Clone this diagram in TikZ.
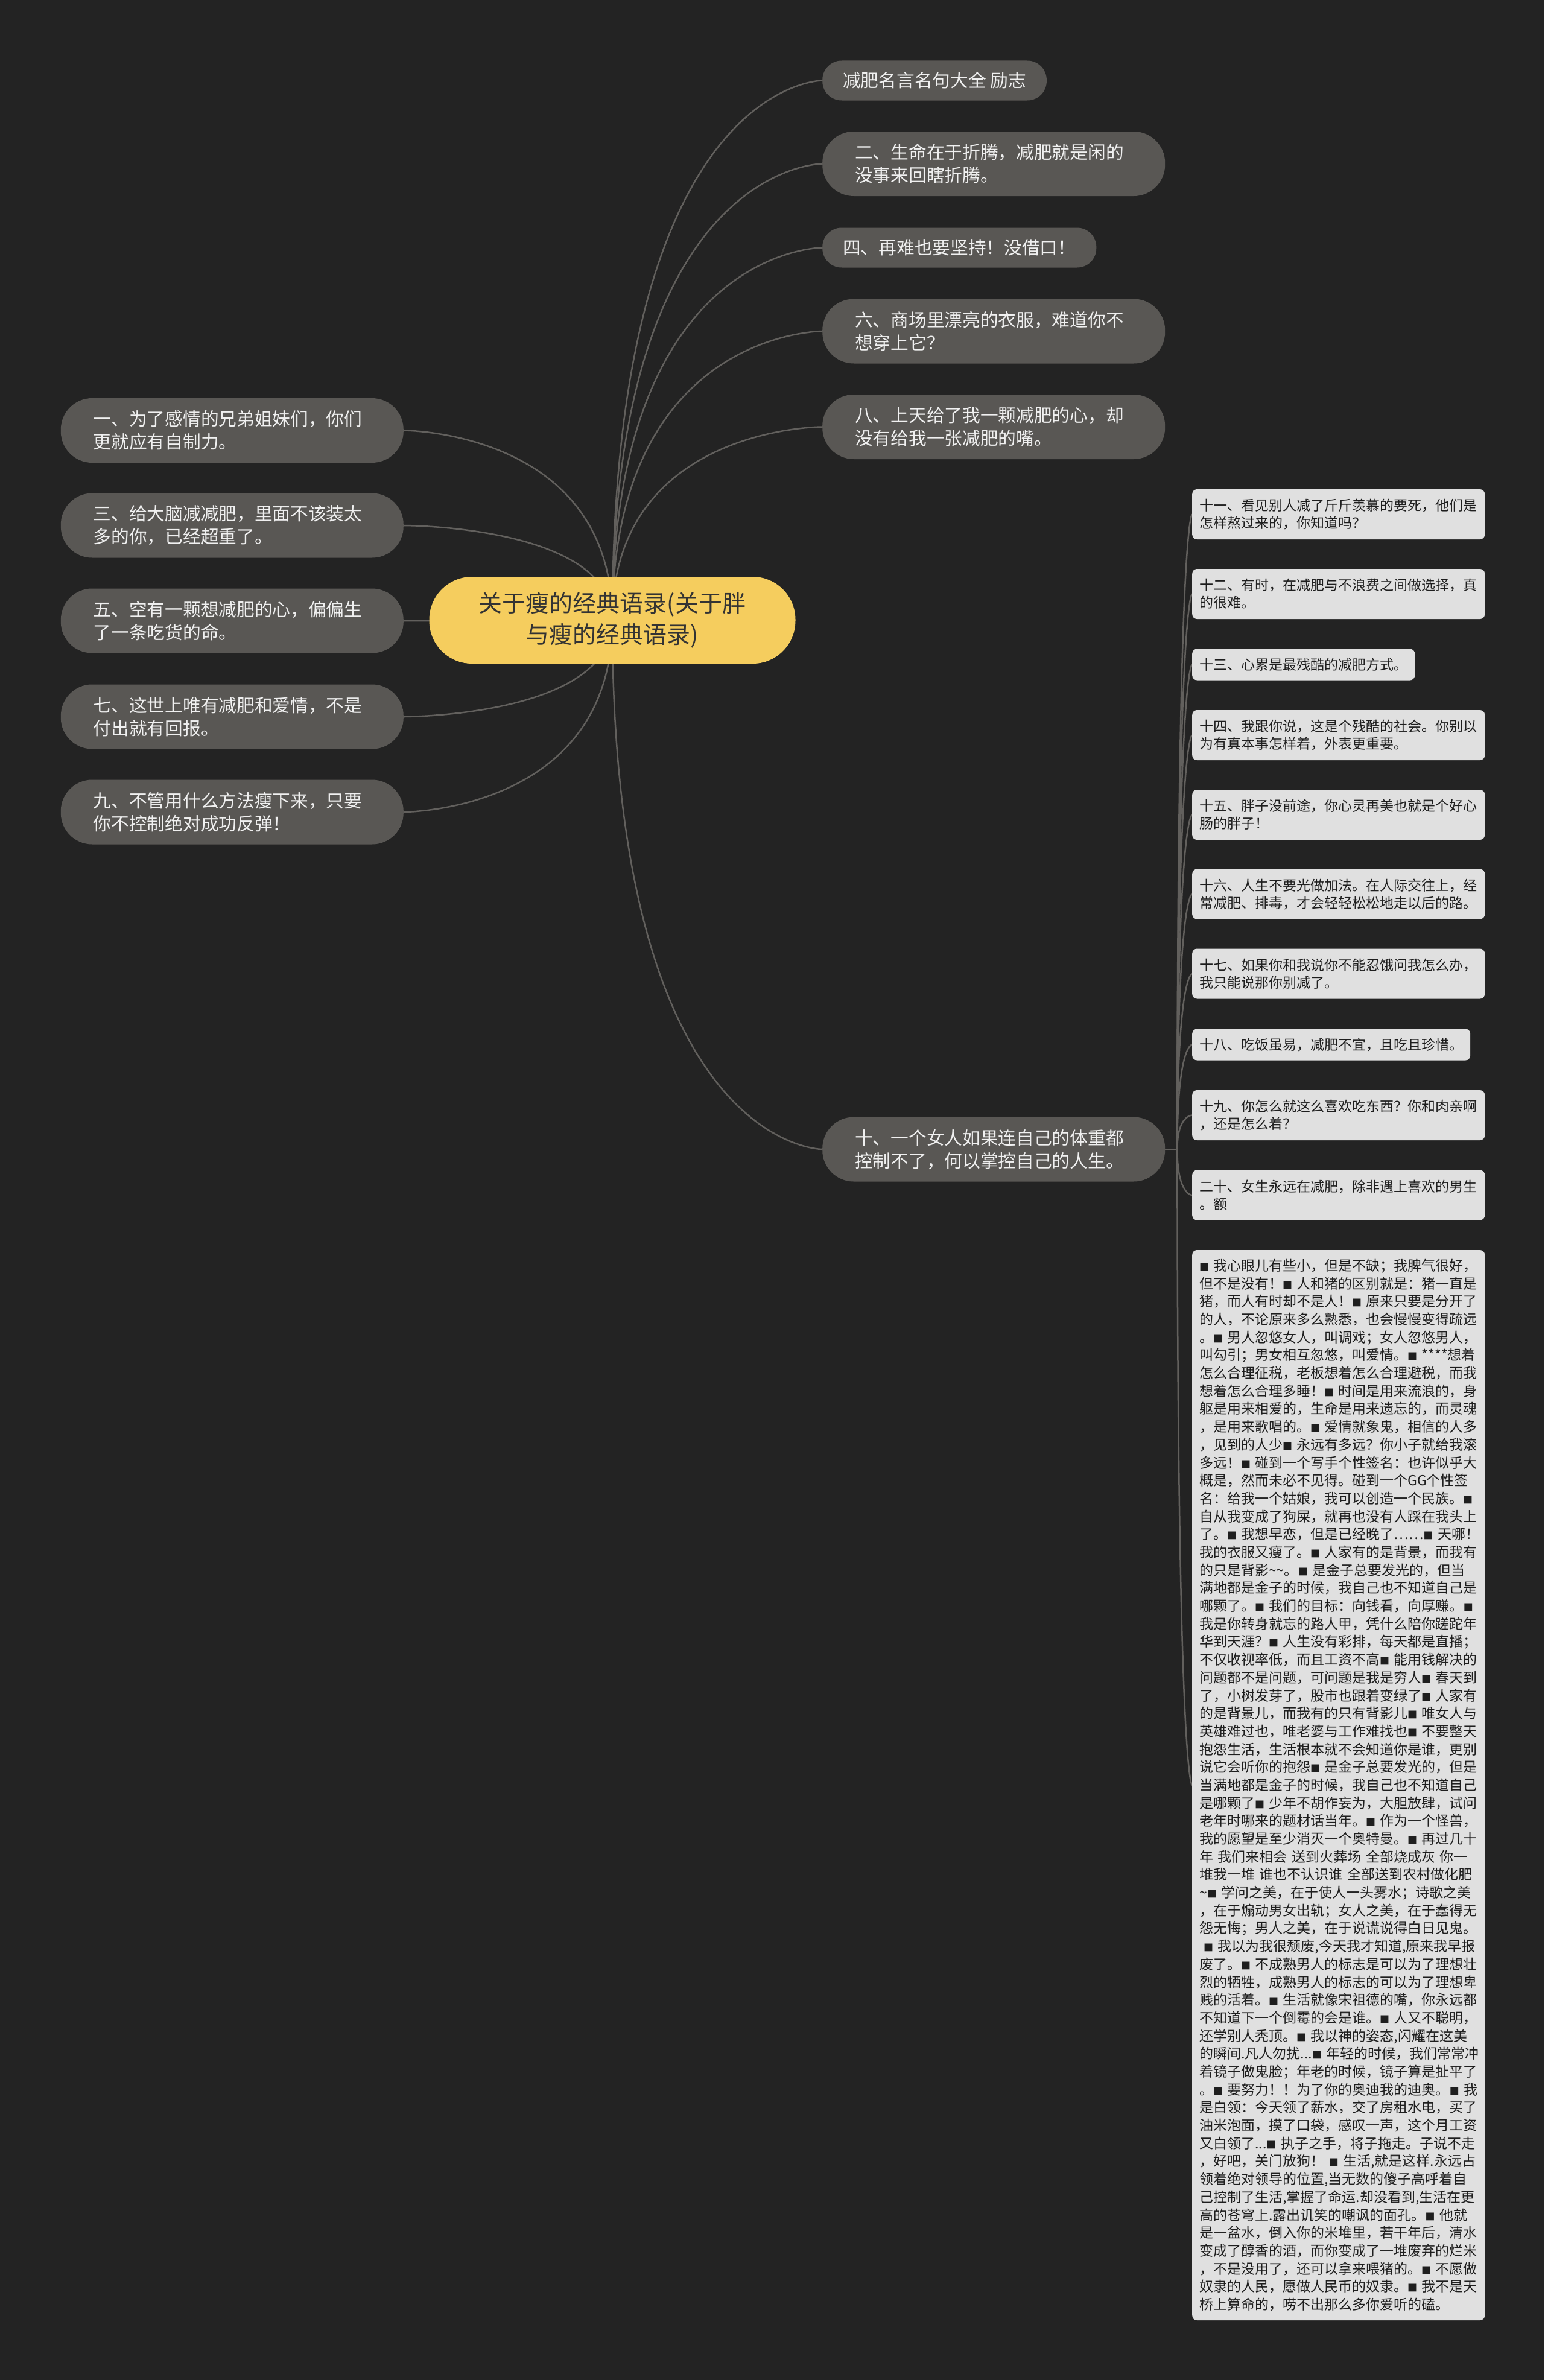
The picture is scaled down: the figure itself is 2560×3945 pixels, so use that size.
\documentclass[tikz,border=0pt]{standalone}
\usepackage{fontspec}
\usepackage{tikz}
\usetikzlibrary{backgrounds}
\newfontfamily\cjk{Noto Sans CJK SC}
\definecolor{bgdark}{HTML}{232323}
\definecolor{rootyellow}{HTML}{F5CD5E}
\definecolor{roottext}{HTML}{333333}
\definecolor{topicgrey}{HTML}{595754}
\definecolor{topictext}{HTML}{F0F0F0}
\definecolor{notegrey}{HTML}{E0E0E0}
\definecolor{notetext}{HTML}{1E1E1E}
\definecolor{linkgrey}{HTML}{62605D}
\newcommand{\bmark}{{\fontsize{16}{16}\selectfont ■}}

\begin{document}
\begin{tikzpicture}[x=1pt,y=-1pt]
        \tikzset{root/.style = {fill=rootyellow, text=roottext, rounded corners=71pt,
            minimum width=607pt, minimum height=144pt, align=center,
            font=\cjk\fontsize{39}{52}\selectfont}}
        \tikzset{topic/.style = {fill=topicgrey, text=topictext, rounded corners=52pt,
            minimum height=107pt, inner xsep=54pt, text width=460pt, align=left,
            font=\cjk\fontsize{29.7}{38}\selectfont}}
        \tikzset{topicone/.style = {topic, rounded corners=32pt, minimum height=66pt,
            inner xsep=34pt, text width=}}
        \tikzset{note/.style = {fill=notegrey, text=notetext, rounded corners=8pt,
            minimum height=83pt, inner xsep=12pt, text width=461pt, align=left,
            anchor=west, font=\cjk\fontsize{23}{29}\selectfont}}
        \tikzset{noteone/.style = {note, minimum height=52pt, text width=}}
        \tikzset{link/.style = {draw=linkgrey, line width=2.5pt}}
        \useasboundingbox (0,0) rectangle (2560,3945);
        % centre
        \node[root] (root) at (1015,1028) {关于瘦的经典语录(关于胖\\与瘦的经典语录)};
        % right topics
        \node[topicone, anchor=west] (r0) at (1363,133.5) {减肥名言名句大全 励志};
        \node[topic, anchor=west] (r2) at (1363,271.5) {二、生命在于折腾，减肥就是闲的\\没事来回瞎折腾。};
        \node[topicone, anchor=west] (r4) at (1363,410.5) {四、再难也要坚持！没借口！};
        \node[topic, anchor=west] (r6) at (1363,549) {六、商场里漂亮的衣服，难道你不\\想穿上它？};
        \node[topic, anchor=west] (r8) at (1363,707.5) {八、上天给了我一颗减肥的心，却\\没有给我一张减肥的嘴。};
        \node[topic, anchor=west] (r10) at (1363,1905) {十、一个女人如果连自己的体重都\\控制不了，何以掌控自己的人生。};
        % left topics
        \node[topic, anchor=east] (l1) at (669,713.5) {一、为了感情的兄弟姐妹们，你们\\更就应有自制力。};
        \node[topic, anchor=east] (l3) at (669,871) {三、给大脑减减肥，里面不该装太\\多的你，已经超重了。};
        \node[topic, anchor=east] (l5) at (669,1029) {五、空有一颗想减肥的心，偏偏生\\了一条吃货的命。};
        \node[topic, anchor=east] (l7) at (669,1188) {七、这世上唯有减肥和爱情，不是\\付出就有回报。};
        \node[topic, anchor=east] (l9) at (669,1346) {九、不管用什么方法瘦下来，只要\\你不控制绝对成功反弹！};
        % notes under 十
        \coordinate (hub) at ([xshift=20pt]r10.east);
        \node[note] (n11) at (1976,852.5) {十一、看见别人减了斤斤羡慕的要死，他们是\\怎样熬过来的，你知道吗？};
        \node[note] (n12) at (1976,984.5) {十二、有时，在减肥与不浪费之间做选择，真\\的很难。};
        \node[noteone] (n13) at (1976,1101.5) {十三、心累是最残酷的减肥方式。};
        \node[note] (n14) at (1976,1218.5) {十四、我跟你说，这是个残酷的社会。你别以\\为有真本事怎样着，外表更重要。};
        \node[note] (n15) at (1976,1350.5) {十五、胖子没前途，你心灵再美也就是个好心\\肠的胖子！};
        \node[note] (n16) at (1976,1482) {十六、人生不要光做加法。在人际交往上，经\\常减肥、排毒，才会轻轻松松地走以后的路。};
        \node[note] (n17) at (1976,1614) {十七、如果你和我说你不能忍饿问我怎么办，\\我只能说那你别减了。};
        \node[noteone] (n18) at (1976,1731.5) {十八、吃饭虽易，减肥不宜，且吃且珍惜。};
        \node[note] (n19) at (1976,1848.5) {十九、你怎么就这么喜欢吃东西？你和肉亲啊\\，还是怎么着？};
        \node[note] (n20) at (1976,1981) {二十、女生永远在减肥，除非遇上喜欢的男生\\。额};
        \node[note, minimum height=1774pt, font=\cjk\fontsize{23}{29.69}\selectfont] (n21) at (1976,2959) {%
\bmark~我心眼儿有些小，但是不缺；我脾气很好，\\
但不是没有！\bmark~人和猪的区别就是：猪一直是\\
猪，而人有时却不是人！\bmark~原来只要是分开了\\
的人，不论原来多么熟悉，也会慢慢变得疏远\\
。\bmark~男人忽悠女人，叫调戏；女人忽悠男人，\\
叫勾引；男女相互忽悠，叫爱情。\bmark~****想着\\
怎么合理征税，老板想着怎么合理避税，而我\\
想着怎么合理多睡！\bmark~时间是用来流浪的，身\\
躯是用来相爱的，生命是用来遗忘的，而灵魂\\
，是用来歌唱的。\bmark~爱情就象鬼，相信的人多\\
，见到的人少\bmark~永远有多远？你小子就给我滚\\
多远！\bmark~碰到一个写手个性签名：也许似乎大\\
概是，然而未必不见得。碰到一个GG个性签\\
名：给我一个姑娘，我可以创造一个民族。\bmark\\
自从我变成了狗屎，就再也没有人踩在我头上\\
了。\bmark~我想早恋，但是已经晚了……\bmark~天哪！\\
我的衣服又瘦了。\bmark~人家有的是背景，而我有\\
的只是背影\textasciitilde\textasciitilde。\bmark~是金子总要发光的，但当\\
满地都是金子的时候，我自己也不知道自己是\\
哪颗了。\bmark~我们的目标：向钱看，向厚赚。\bmark\\
我是你转身就忘的路人甲，凭什么陪你蹉跎年\\
华到天涯？\bmark~人生没有彩排，每天都是直播；\\
不仅收视率低，而且工资不高\bmark~能用钱解决的\\
问题都不是问题，可问题是我是穷人\bmark~春天到\\
了，小树发芽了，股市也跟着变绿了\bmark~人家有\\
的是背景儿，而我有的只有背影儿\bmark~唯女人与\\
英雄难过也，唯老婆与工作难找也\bmark~不要整天\\
抱怨生活，生活根本就不会知道你是谁，更别\\
说它会听你的抱怨\bmark~是金子总要发光的，但是\\
当满地都是金子的时候，我自己也不知道自己\\
是哪颗了\bmark~少年不胡作妄为，大胆放肆，试问\\
老年时哪来的题材话当年。\bmark~作为一个怪兽，\\
我的愿望是至少消灭一个奥特曼。\bmark~再过几十\\
年 我们来相会 送到火葬场 全部烧成灰 你一\\
堆我一堆 谁也不认识谁 全部送到农村做化肥\\
\textasciitilde\bmark~学问之美，在于使人一头雾水；诗歌之美\\
，在于煽动男女出轨；女人之美，在于蠢得无\\
怨无悔；男人之美，在于说谎说得白日见鬼。\\
\hspace*{7pt}\bmark~我以为我很颓废,今天我才知道,原来我早报\\
废了。\bmark~不成熟男人的标志是可以为了理想壮\\
烈的牺牲，成熟男人的标志的可以为了理想卑\\
贱的活着。\bmark~生活就像宋祖德的嘴，你永远都\\
不知道下一个倒霉的会是谁。\bmark~人又不聪明，\\
还学别人秃顶。\bmark~我以神的姿态,闪耀在这美\\
的瞬间.凡人勿扰...\bmark~年轻的时候，我们常常冲\\
着镜子做鬼脸；年老的时候，镜子算是扯平了\\
。\bmark~要努力！！为了你的奥迪我的迪奥。\bmark~我\\
是白领：今天领了薪水，交了房租水电，买了\\
油米泡面，摸了口袋，感叹一声，这个月工资\\
又白领了...\bmark~执子之手，将子拖走。子说不走\\
，好吧，关门放狗！ \bmark~生活,就是这样.永远占\\
领着绝对领导的位置,当无数的傻子高呼着自\\
己控制了生活,掌握了命运.却没看到,生活在更\\
高的苍穹上.露出讥笑的嘲讽的面孔。\bmark~他就\\
是一盆水，倒入你的米堆里，若干年后，清水\\
变成了醇香的酒，而你变成了一堆废弃的烂米\\
，不是没用了，还可以拿来喂猪的。\bmark~不愿做\\
奴隶的人民，愿做人民币的奴隶。\bmark~我不是天\\
桥上算命的，唠不出那么多你爱听的磕。};
        % links
        \begin{scope}[on background layer]
        \fill[bgdark] (0,0) rectangle (2560,3945);
        \foreach \n in {r0,r2,r4,r6,r8,r10}
            \draw[link] (root.center) .. controls (root.center |- \n.west) and (\n.west) .. (\n.west);
        \foreach \n in {l1,l3,l5,l7,l9}
            \draw[link] (root.center) .. controls (root.center |- \n.east) and (\n.east) .. (\n.east);
        \draw[link] (r10.east) -- (hub);
        \foreach \n in {n11,n12,n13,n14,n15,n16,n17,n18,n19,n20,n21}
            \draw[link] (hub) .. controls (hub |- \n.west) and (\n.west) .. (\n.west);
        \end{scope}
    \end{tikzpicture}
\end{document}
